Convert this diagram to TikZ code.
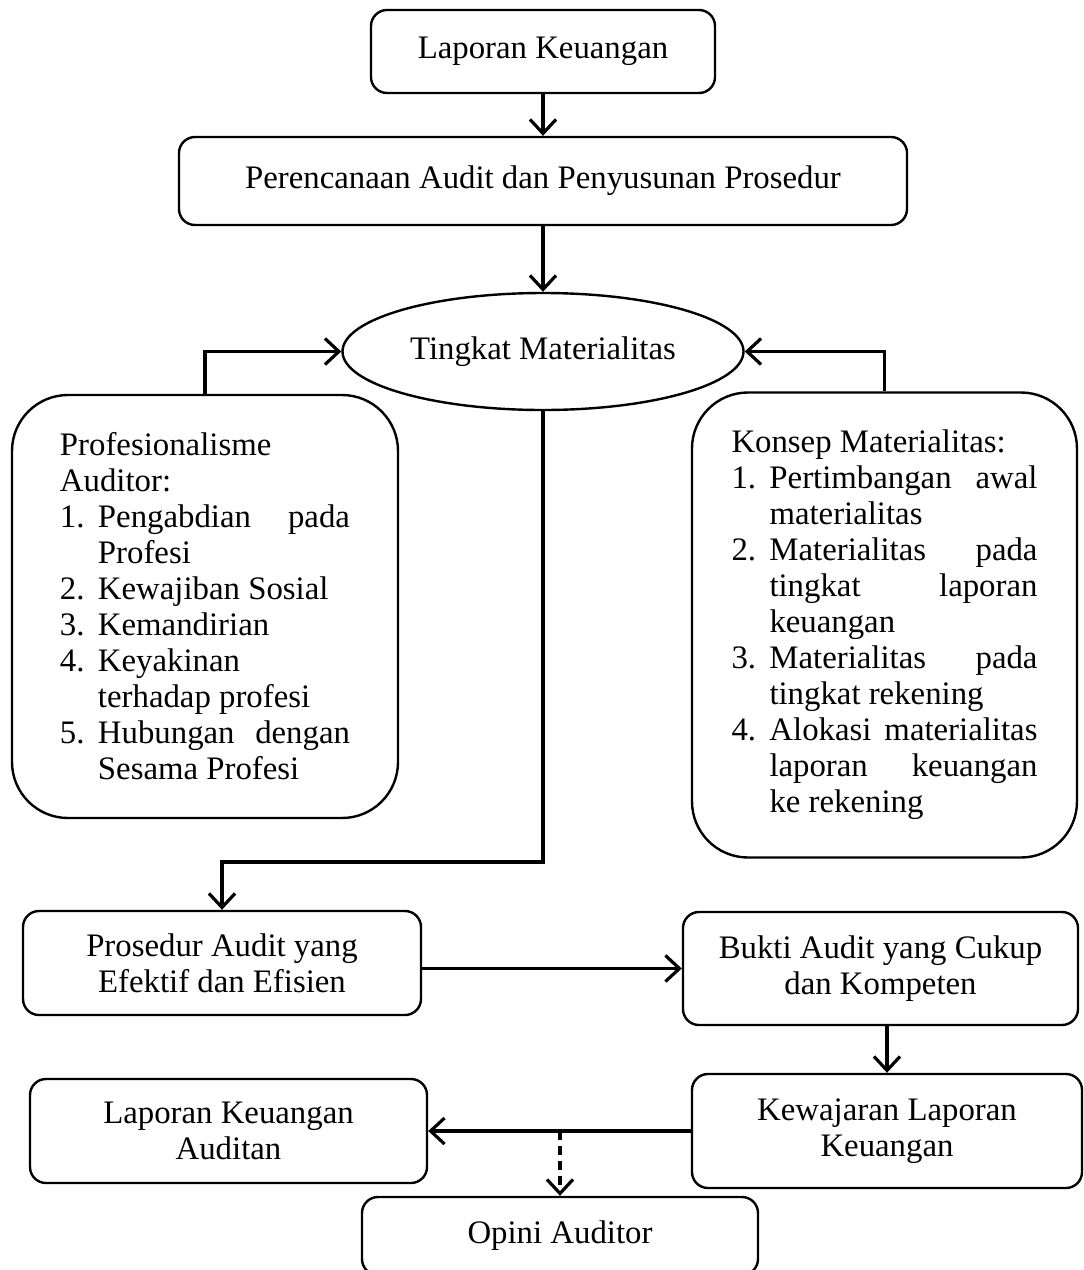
\documentclass[tikz,border=0pt]{standalone}
\usepackage{fontspec}
\setmainfont{Liberation Serif}
\usetikzlibrary{shapes.geometric,arrows.meta}
\hyphenpenalty=10000
\tolerance=9999
\hbadness=10000
\newcommand{\butir}[2]{\par\noindent\hangindent=19pt\hangafter=1\makebox[19pt][l]{#1}#2}
\begin{document}
\begin{tikzpicture}[x=.5pt,y=-.5pt,font=\fontsize{16.4}{18}\selectfont,
  box/.style={draw,rounded corners=8pt,line width=1.2pt,align=center,inner sep=0pt},
  kotak/.style={draw,rounded corners=28pt,line width=1.2pt,align=justify,inner ysep=0pt},
  panah/.style={line width=1.6pt,-{Straight Barb[length=7pt,width=13pt]}}]
\path[use as bounding box,clip] (0,0) rectangle (1083,1270);
% alur atas
\node[box,minimum width=172pt,minimum height=41.5pt] (lk) at (543,51.5) {Laporan Keuangan};
\node[box,minimum width=364pt,minimum height=44pt] (plan) at (543,181) {Perencanaan Audit dan Penyusunan Prosedur};
\node[draw,ellipse,line width=1.2pt,minimum width=200.5pt,minimum height=58.5pt,inner sep=0pt] (tm) at (543,351.5) {Tingkat Materialitas};
% kotak samping
\node[kotak,text width=145pt,inner xsep=24pt,minimum height=211.5pt] (prof) at (205,606.5) {\noindent Profesionalisme Auditor:
\butir{1.}{Pengabdian pada\linebreak Profesi}
\butir{2.}{Kewajiban Sosial}
\butir{3.}{Kemandirian}
\butir{4.}{Keyakinan\newline terhadap profesi}
\butir{5.}{Hubungan dengan\linebreak Sesama Profesi}\par};
\node[kotak,text width=153pt,inner xsep=19.75pt,minimum height=232.5pt] (konsep) at (884.5,625) {\noindent Konsep Materialitas:
\butir{1.}{Pertimbangan awal\linebreak materialitas}
\butir{2.}{Materialitas pada\linebreak tingkat laporan\linebreak keuangan}
\butir{3.}{Materialitas pada\linebreak tingkat rekening}
\butir{4.}{Alokasi materialitas\linebreak laporan keuangan\linebreak ke rekening}\par};
% alur bawah
\node[box,minimum width=199pt,minimum height=52pt] (pros) at (222,963) {Prosedur Audit yang\\Efektif dan Efisien};
\node[box,minimum width=197.5pt,minimum height=56.5pt] (bukti) at (880.5,968.5) {Bukti Audit yang Cukup\\dan Kompeten};
\node[box,minimum width=195pt,minimum height=57pt] (kew) at (887,1131) {Kewajaran Laporan\\Keuangan};
\node[box,minimum width=198.5pt,minimum height=52pt] (lka) at (228.5,1131) {Laporan Keuangan\\Auditan};
\node[box,minimum width=198pt,minimum height=39pt] (opini) at (560,1236) {Opini Auditor};
\coordinate (belok) at (543,862);
% panah
\draw[panah] (lk.south) -- (plan.north);
\draw[panah] (plan.south) -- (tm.north);
\draw[panah] (prof.north) |- (tm.west);
\draw[panah] (konsep.north) |- (tm.east);
\draw[panah] (tm.south) -- (belok) -| (pros.north);
\draw[panah] (pros.east |- bukti.west) -- (bukti.west);
\draw[panah] (kew.north |- bukti.south) -- (kew.north);
\draw[panah] (kew.west) -- (kew.west -| lka.east);
\draw[panah,dash pattern=on 4.5pt off 3pt] (opini.north |- kew.west) -- (opini.north);
\end{tikzpicture}
\end{document}
